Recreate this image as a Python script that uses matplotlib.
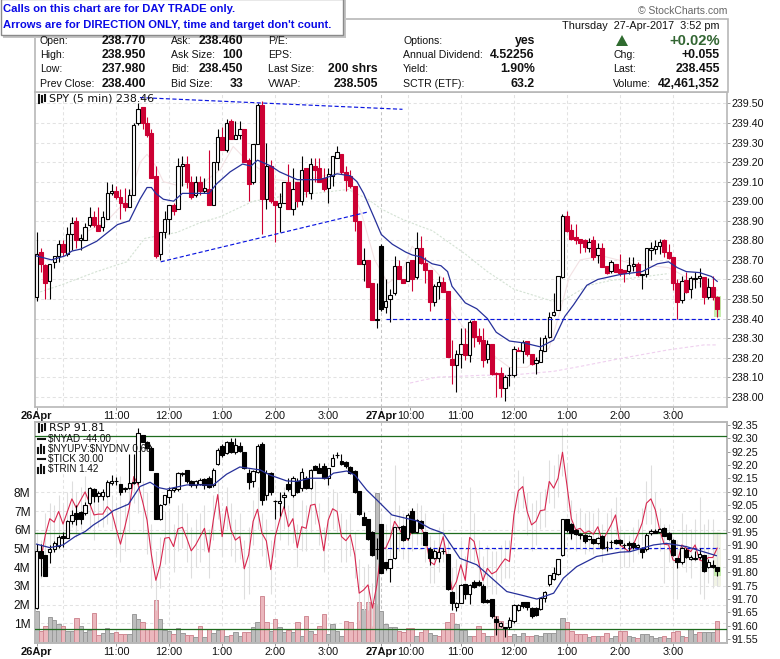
import numpy as np
import matplotlib
matplotlib.use("Agg")
import matplotlib.pyplot as plt
from matplotlib.lines import Line2D
from matplotlib.patches import Rectangle

plt.rcParams['font.family'] = ['Liberation Sans', 'DejaVu Sans']

# SPY 5 min bars, two sessions
spy_open = [238.51,238.74,238.675,238.59,238.69,238.72,238.78,238.73,238.83,238.90,
    238.80,238.80,238.88,238.92,238.88,238.87,238.91,239.04,239.05,239.02,
    238.99,238.97,239.03,239.40,239.48,239.40,239.35,239.13,238.73,238.84,
    238.91,238.98,238.96,239.18,239.19,239.10,239.03,239.10,239.05,239.06,
    238.98,239.20,239.33,239.26,239.41,239.32,239.34,239.37,239.21,239.10,
    239.29,239.49,239.01,239.18,239.00,238.97,238.99,239.10,238.96,239.10,
    239.00,239.17,239.04,239.18,239.17,239.12,239.07,239.13,239.22,239.24,
    239.15,239.13,239.08,238.90,238.68,238.70,238.58,238.39,238.77,238.46,
    238.50,238.53,238.67,238.60,238.59,238.70,238.61,238.76,238.685,238.65,
    238.485,238.565,238.585,238.54,238.195,238.16,238.22,238.27,238.215,238.385,
    238.31,238.29,238.195,238.27,238.12,238.12,238.045,238.11,238.11,238.24,
    238.235,238.285,238.22,238.17,238.18,238.235,238.305,238.42,238.445,238.61,
    238.925,238.855,238.815,238.805,238.80,238.76,238.80,238.725,238.76,238.67,
    238.645,238.68,238.655,238.65,238.645,238.67,238.68,238.625,238.63,238.75,
    238.755,238.77,238.80,238.74,238.715,238.58,238.495,238.595,238.55,238.60,
    238.605,238.61,238.51,238.56,238.51]
spy_high = [238.84,238.76,238.68,238.68,238.72,238.80,238.80,238.87,238.92,238.92,
    238.83,238.89,238.97,238.95,238.97,238.95,239.10,239.09,239.08,239.06,
    239.07,239.06,239.40,239.50,239.48,239.43,239.37,239.18,238.84,238.95,
    238.98,238.99,239.22,239.23,239.23,239.13,239.13,239.13,239.12,239.26,
    239.20,239.37,239.38,239.42,239.42,239.41,239.41,239.37,239.22,239.29,
    239.50,239.51,239.30,239.21,239.00,239.04,239.10,239.19,239.17,239.10,
    239.23,239.17,239.22,239.22,239.22,239.17,239.17,239.23,239.28,239.24,
    239.18,239.16,239.08,238.90,238.76,238.70,238.58,238.58,238.78,238.60,
    238.55,238.72,238.70,238.60,238.69,238.70,238.84,238.82,238.715,238.65,
    238.575,238.615,238.61,238.54,238.29,238.24,238.35,238.35,238.39,238.39,
    238.35,238.35,238.29,238.27,238.125,238.15,238.11,238.15,238.26,238.255,
    238.29,238.285,238.22,238.205,238.305,238.315,238.435,238.53,238.62,238.935,
    238.95,238.885,238.885,238.805,238.805,238.81,238.82,238.785,238.785,238.67,
    238.70,238.68,238.73,238.65,238.715,238.715,238.69,238.63,238.76,238.79,
    238.80,238.805,238.805,238.78,238.715,238.60,238.62,238.64,238.615,238.64,
    238.66,238.61,238.605,238.62,238.515]
spy_low = [238.49,238.64,238.50,238.50,238.66,238.69,238.72,238.72,238.75,238.76,
    238.75,238.80,238.87,238.87,238.85,238.85,238.91,239.03,239.01,238.91,
    238.95,238.97,239.03,239.39,239.37,239.33,239.12,238.71,238.70,238.81,
    238.83,238.93,238.96,239.08,239.07,239.01,239.02,239.03,239.04,238.98,
    238.98,239.16,239.26,239.25,239.32,239.32,239.32,239.20,239.00,239.09,
    239.29,238.83,238.96,238.99,238.79,238.84,238.99,238.96,238.93,238.97,
    238.98,239.02,239.01,239.10,239.10,239.05,238.99,239.08,239.22,239.14,
    239.05,239.07,238.85,238.68,238.59,238.56,238.39,238.35,238.44,238.43,
    238.38,238.52,238.60,238.58,238.59,238.54,238.60,238.68,238.58,238.44,
    238.465,238.50,238.535,238.205,238.065,238.025,238.145,238.19,238.18,238.255,
    238.27,238.15,238.17,238.11,238.00,238.00,237.98,238.055,238.10,238.24,
    238.17,238.21,238.16,238.115,238.18,238.235,238.30,238.415,238.445,238.605,
    238.845,238.80,238.78,238.735,238.74,238.74,238.70,238.685,238.665,238.63,
    238.635,238.64,238.62,238.585,238.63,238.645,238.62,238.55,238.61,238.70,
    238.73,238.73,238.715,238.705,238.545,238.40,238.48,238.53,238.505,238.555,
    238.56,238.475,238.50,238.495,238.41]
spy_close = [238.73,238.68,238.58,238.68,238.72,238.78,238.74,238.83,238.89,238.80,
    238.81,238.87,238.92,238.88,238.85,238.92,239.04,239.05,239.02,238.99,
    238.97,239.03,239.39,239.47,239.40,239.34,239.12,238.72,238.84,238.91,
    238.98,238.95,239.18,239.19,239.10,239.02,239.10,239.05,239.07,238.98,
    239.20,239.33,239.26,239.40,239.32,239.34,239.37,239.20,239.09,239.29,
    239.49,239.01,239.18,239.00,238.98,238.99,239.10,238.96,239.06,239.00,
    239.16,239.05,239.19,239.16,239.10,239.06,239.14,239.23,239.25,239.15,
    239.11,239.08,238.90,238.68,238.70,238.56,238.39,238.40,238.45,238.49,
    238.52,238.67,238.60,238.58,238.69,238.60,238.76,238.685,238.65,238.485,
    238.565,238.585,238.535,238.205,238.16,238.22,238.27,238.215,238.38,238.305,
    238.285,238.19,238.27,238.115,238.115,238.045,238.10,238.11,238.245,238.235,
    238.28,238.22,238.165,238.19,238.24,238.30,238.41,238.435,238.615,238.925,
    238.85,238.805,238.80,238.785,238.765,238.79,238.715,238.76,238.665,238.635,
    238.69,238.64,238.635,238.635,238.675,238.68,238.625,238.63,238.76,238.76,
    238.77,238.79,238.74,238.71,238.58,238.485,238.59,238.535,238.605,238.605,
    238.615,238.51,238.56,238.51,238.45]

# moving averages on the price panel, read at the bends
blue_x = [0,3.4,6.4,8,10,13.6,18.3,21,23.4,25,26,27,28.7,31,33,36,39,40.8,43.8,46.6,48.5,50,53,55,59,61,64,65.5,68,71,72.5,74,76.5,78,80.5,83.5,85,87,89.5,91.5,93,94,97,99.6,102,104,107,110.3,114,117,119.5,121.5,124.5,127,132,137,140.5,143,145,147,150,152.7,154]
blue_y = [238.72,238.70,238.72,238.745,238.755,238.795,238.88,238.90,239.01,239.07,239.07,239.04,239.01,239.0,239.04,239.04,239.04,239.09,239.15,239.19,239.18,239.21,239.18,239.15,239.11,239.11,239.11,239.12,239.14,239.13,239.10,239.04,238.91,238.83,238.78,238.74,238.725,238.715,238.68,238.67,238.64,238.565,238.48,238.45,238.40,238.33,238.285,238.275,238.255,238.29,238.41,238.47,238.57,238.60,238.625,238.64,238.68,238.69,238.66,238.64,238.635,238.615,238.59]
pink_x = [11,16,21,23.5,25,27,28.7,32,38,41.5,44.5,47.5,54,59,69,71,73.5,76.5,79.5,82.5,85,92,94,97,101,104,107,111,116,118.5,120.5,123,128,135,143,148,154]
pink_y = [238.84,238.90,239.02,239.20,239.24,239.18,239.10,239.08,239.10,239.16,239.28,239.21,239.11,239.10,239.15,239.08,238.94,238.70,238.58,238.63,238.77,238.60,238.44,238.34,238.27,238.20,238.15,238.15,238.25,238.44,238.61,238.70,238.72,238.68,238.66,238.60,238.545]
green_x = [0,6,13.6,20.4,24.5,31.7,37,41.5,49,57,63,70.5,75,78,82.5,87,89.5,97,102,108,116.5,119,123,125,130,136,143]
green_y = [238.53,238.575,238.64,238.69,238.81,238.84,238.89,238.92,239.0,239.03,239.04,239.06,239.01,238.96,238.91,238.87,238.85,238.73,238.64,238.55,238.49,238.49,238.545,238.57,238.595,238.61,238.63]
mauve_x = [84.5,90.5,101,107,117,123,132,143,151,154]
mauve_y = [238.07,238.10,238.11,238.11,238.13,238.155,238.195,238.24,238.265,238.265]

# hand drawn lines on the price panel
trend_hi_x = [23.4,82.8]
trend_hi_y = [239.53,239.47]
trend_lo_x = [28.1,75]
trend_lo_y = [238.69,238.945]
prev_close = 238.40
prev_x = [79,154.5]
spy_ticks = [238.0,238.1,238.2,238.3,238.4,238.5,238.6,238.7,238.8,238.9,239.0,239.1,239.2,239.3,239.4,239.5]

# RSP bars on the lower panel
rsp_open = [91.665,91.88,91.865,91.875,91.888,91.897,91.937,91.927,91.99,92.02,
    92.024,92.02,92.058,92.11,92.086,92.083,92.086,92.132,92.141,92.128,
    92.11,92.116,92.132,92.136,92.313,92.288,92.263,92.17,92.0,92.056,
    92.08,92.108,92.11,92.165,92.18,92.14,92.125,92.13,92.148,92.153,
    92.125,92.203,92.27,92.245,92.288,92.25,92.27,92.25,92.17,92.14,
    92.175,92.28,92.09,92.17,92.065,92.058,92.08,92.13,92.09,92.14,
    92.113,92.15,92.116,92.197,92.188,92.198,92.153,92.198,92.238,92.215,
    92.21,92.193,92.178,92.103,92.005,92.0,91.952,91.885,91.98,91.837,
    91.817,91.855,91.968,91.972,91.927,92.03,91.95,91.99,91.95,91.886,
    91.855,91.855,91.878,91.867,91.728,91.672,91.687,91.755,91.72,91.765,
    91.765,91.75,91.695,91.70,91.625,91.60,91.593,91.595,91.617,91.66,
    91.688,91.688,91.665,91.665,91.663,91.703,91.755,91.775,91.793,91.865,
    91.998,91.98,91.958,91.94,91.94,91.924,91.923,91.908,91.937,91.895,
    91.912,91.92,91.92,91.90,91.908,91.908,91.896,91.887,91.887,91.945,
    91.955,91.952,91.967,91.946,91.92,91.855,91.837,91.883,91.85,91.85,
    91.857,91.865,91.82,91.828,91.82]
rsp_high = [91.907,91.907,91.865,91.90,91.915,91.94,91.952,91.995,92.032,92.05,
    92.027,92.064,92.12,92.114,92.104,92.11,92.145,92.164,92.157,92.128,
    92.12,92.24,92.24,92.338,92.313,92.29,92.27,92.17,92.055,92.09,
    92.12,92.12,92.175,92.175,92.182,92.145,92.145,92.15,92.15,92.16,
    92.19,92.265,92.28,92.29,92.30,92.30,92.285,92.25,92.185,92.18,
    92.28,92.285,92.18,92.175,92.07,92.10,92.10,92.15,92.16,92.15,
    92.188,92.16,92.185,92.20,92.207,92.207,92.19,92.24,92.248,92.24,
    92.215,92.195,92.18,92.103,92.024,92.0,91.955,91.927,91.98,91.84,
    91.85,91.97,91.97,91.975,92.02,92.04,92.0,91.995,91.952,91.896,
    91.885,91.896,91.89,91.867,91.73,91.69,91.755,91.757,91.755,91.77,
    91.77,91.755,91.70,91.70,91.635,91.615,91.595,91.634,91.68,91.68,
    91.69,91.69,91.67,91.67,91.705,91.73,91.79,91.82,91.85,92.0,
    91.999,91.985,91.96,91.945,91.942,91.94,91.925,91.93,91.94,91.917,
    91.92,91.925,91.925,91.91,91.915,91.912,91.905,91.896,91.945,91.96,
    91.96,91.965,91.97,91.95,91.925,91.855,91.895,91.89,91.865,91.88,
    91.89,91.865,91.85,91.845,91.82]
rsp_low = [91.663,91.785,91.787,91.834,91.877,91.89,91.896,91.927,91.98,91.977,
    91.979,92.014,92.05,92.064,92.064,92.07,92.08,92.126,92.126,92.09,
    92.10,92.11,92.13,92.13,92.286,92.26,92.18,91.998,91.995,92.05,
    92.06,92.10,92.105,92.16,92.135,92.12,92.115,92.125,92.11,92.115,
    92.12,92.20,92.23,92.24,92.245,92.24,92.25,92.185,92.11,92.12,
    92.17,92.05,92.07,92.09,92.0,92.01,92.04,92.105,92.08,92.095,
    92.105,92.11,92.11,92.18,92.17,92.148,92.124,92.195,92.226,92.20,
    92.19,92.165,92.095,92.015,91.975,91.92,91.86,91.85,91.797,91.81,
    91.765,91.85,91.96,91.915,91.92,91.945,91.945,91.96,91.90,91.827,
    91.85,91.84,91.87,91.735,91.66,91.657,91.685,91.70,91.68,91.74,
    91.75,91.685,91.685,91.63,91.565,91.595,91.56,91.59,91.61,91.655,
    91.665,91.66,91.63,91.635,91.66,91.69,91.75,91.77,91.79,91.86,
    91.95,91.925,91.94,91.925,91.91,91.92,91.905,91.905,91.885,91.88,
    91.89,91.905,91.90,91.89,91.88,91.885,91.89,91.855,91.88,91.94,
    91.945,91.95,91.935,91.92,91.86,91.817,91.83,91.855,91.845,91.845,
    91.85,91.80,91.815,91.815,91.785]
rsp_close = [91.88,91.855,91.787,91.888,91.908,91.933,91.927,91.993,92.014,91.999,
    91.999,92.05,92.116,92.086,92.095,92.099,92.138,92.141,92.14,92.098,
    92.116,92.132,92.136,92.318,92.288,92.263,92.18,91.998,92.05,92.089,
    92.108,92.115,92.17,92.17,92.14,92.125,92.14,92.145,92.125,92.12,
    92.182,92.257,92.238,92.285,92.25,92.275,92.253,92.19,92.136,92.178,
    92.273,92.07,92.17,92.10,92.065,92.067,92.087,92.11,92.153,92.10,
    92.176,92.116,92.182,92.182,92.172,92.153,92.188,92.226,92.239,92.205,
    92.195,92.17,92.098,92.018,91.977,91.925,91.865,91.887,91.797,91.815,
    91.85,91.969,91.969,91.92,92.012,91.95,91.995,91.967,91.902,91.855,
    91.88,91.874,91.88,91.737,91.687,91.687,91.753,91.72,91.752,91.746,
    91.753,91.69,91.688,91.635,91.615,91.61,91.594,91.622,91.678,91.678,
    91.675,91.672,91.635,91.64,91.703,91.725,91.788,91.796,91.849,91.998,
    91.958,91.946,91.942,91.941,91.917,91.937,91.908,91.927,91.89,91.896,
    91.913,91.91,91.908,91.90,91.90,91.896,91.902,91.877,91.94,91.955,
    91.947,91.962,91.937,91.923,91.865,91.837,91.89,91.858,91.857,91.855,
    91.867,91.806,91.838,91.818,91.806]

# red overlay line, same scale as the right axis
red_line = [91.865,91.85,91.94,92.0,91.987,92.027,91.98,92.027,92.074,92.04,
    92.07,92.10,92.058,92.014,92.017,92.017,92.045,92.027,91.964,91.905,
    91.97,92.04,92.157,92.126,92.064,91.995,91.865,91.77,91.828,91.927,
    91.93,91.896,91.962,91.968,91.927,91.88,91.902,91.933,91.964,91.875,
    91.995,92.09,91.933,92.045,91.958,91.92,91.933,91.813,91.865,91.99,
    92.035,91.946,91.917,91.81,91.933,91.995,92.045,91.97,92.0,91.892,
    91.97,91.964,92.05,92.054,91.977,91.88,91.995,92.037,92.027,91.933,
    91.918,91.94,91.865,91.722,91.734,91.753,91.666,91.753,91.89,91.89,
    91.927,91.99,91.964,91.933,91.92,91.958,91.977,91.97,91.927,91.84,
    91.828,91.877,91.933,91.84,91.734,91.765,91.828,91.77,91.93,91.915,
    91.84,91.769,91.815,91.794,91.803,91.828,91.85,91.84,92.014,92.104,
    92.12,92.027,91.977,91.99,92.03,92.033,92.139,92.114,92.151,92.248,
    92.126,92.0,91.958,91.964,91.946,91.954,91.942,91.97,91.915,91.946,
    91.977,92.014,91.902,91.89,91.877,91.902,91.94,91.983,92.058,92.074,
    92.033,91.958,91.905,91.902,91.846,91.84,91.902,91.89,91.877,91.902,
    91.846,91.84,91.855,91.855,91.89]

# pale high-low bars behind the candles
tick_high = [91.95,91.92,92.02,92.06,92.05,92.09,92.05,92.10,92.14,92.10,
    92.12,92.16,92.12,92.09,92.06,92.07,92.10,92.09,92.06,92.16,
    92.06,92.13,92.24,92.20,92.14,92.10,91.98,91.88,91.93,92.03,
    92.03,91.98,92.05,92.06,92.02,91.97,92.00,92.02,92.05,91.96,
    92.09,92.14,92.02,92.12,92.06,92.00,92.02,91.92,91.97,92.07,
    92.12,92.02,92.00,91.92,92.02,92.08,92.12,92.05,92.10,91.98,
    92.07,92.05,92.14,92.14,92.06,91.97,92.08,92.11,92.10,92.02,
    92.00,92.02,91.95,91.85,91.82,91.83,91.76,91.85,92.02,91.98,
    92.02,92.20,92.05,92.02,92.00,92.04,92.06,92.05,92.02,91.94,
    91.92,91.97,92.02,91.92,91.82,91.85,91.92,91.86,92.12,92.02,
    91.92,91.86,91.90,91.88,91.88,91.90,91.92,91.92,92.10,92.18,
    92.16,92.10,92.06,92.07,92.10,92.11,92.22,92.20,92.24,92.34,
    92.20,92.07,92.02,92.04,92.02,92.03,92.02,92.04,91.98,92.02,
    92.04,92.08,91.97,91.95,91.94,91.97,92.00,92.04,92.14,92.20,
    92.10,92.04,91.98,91.98,91.92,91.92,92.02,91.98,91.96,92.00,
    92.08,91.98,92.00,92.00,91.95]
tick_low = [91.80,91.78,91.84,91.89,91.90,91.94,91.88,91.93,91.97,91.93,
    91.96,92.02,91.96,91.92,91.97,91.97,91.98,91.96,91.87,91.84,
    91.88,91.95,92.06,92.02,91.95,91.87,91.74,91.66,91.74,91.83,
    91.84,91.80,91.88,91.89,91.84,91.78,91.82,91.84,91.88,91.78,
    91.92,92.00,91.86,91.96,91.86,91.84,91.85,91.70,91.72,91.90,
    91.96,91.86,91.82,91.72,91.86,91.92,91.96,91.90,91.91,91.82,
    91.88,91.88,91.95,91.98,91.90,91.80,91.92,91.96,91.95,91.84,
    91.84,91.86,91.78,91.62,91.66,91.66,91.60,91.68,91.80,91.80,
    91.82,91.90,91.88,91.85,91.84,91.88,91.90,91.90,91.84,91.76,
    91.76,91.80,91.84,91.76,91.66,91.70,91.76,91.70,91.84,91.84,
    91.76,91.70,91.74,91.72,91.72,91.76,91.78,91.78,91.94,92.02,
    92.04,91.94,91.88,91.90,91.96,91.97,92.06,92.04,92.08,92.16,
    92.04,91.92,91.88,91.89,91.87,91.88,91.87,91.89,91.84,91.87,
    91.90,91.94,91.82,91.82,91.82,91.84,91.87,91.90,91.98,91.98,
    91.96,91.88,91.76,91.84,91.70,91.70,91.82,91.80,91.78,91.84,
    91.72,91.70,91.76,91.74,91.75]

rsp_ma_x = [0,3,6,8.7,11,12.9,15.1,17.4,20.8,23.4,25.7,27.6,29.4,34,40,43,46,50.6,52.8,56.6,58.9,61.9,65.7,67.2,70.2,72,74.7,77,80.4,86,89,92,95.8,99.6,103,106.4,109.4,113.2,117,119.2,122.2,126.7,132,134.3,139.6,142.5,147,153.8]
rsp_ma_y = [91.905,91.892,91.902,91.933,91.952,91.977,92.0,92.03,92.054,92.12,92.136,92.116,92.11,92.126,92.126,92.166,92.193,92.182,92.163,92.141,92.139,92.151,92.151,92.17,92.178,92.163,92.107,92.07,92.014,91.992,91.964,91.946,91.852,91.828,91.778,91.728,91.716,91.70,91.722,91.778,91.821,91.859,91.875,91.877,91.902,91.908,91.896,91.862]
green_levels = [92.308,91.946,91.59]
rsp_prev = 91.89
rsp_prev_x = [78,154.5]
rsp_ticks = [91.55,91.60,91.65,91.70,91.75,91.80,91.85,91.90,91.95,92.00,92.05,92.10,92.15,92.20,92.25,92.30,92.35]

# volume in millions, g = up bar, p = down bar
volume = [1.68,.57,.84,1.32,1.18,.96,.84,.57,.57,1.27,
    .84,.52,.64,1.54,.38,.46,.73,.46,.52,.43,
    .43,.43,1.5,1.23,1.05,.70,.68,2.25,1.23,.64,
    .6,.43,.73,.46,.38,.38,.25,.84,.29,.7,
    .46,.64,.7,.34,.38,.52,.34,.52,.52,.79,
    1.05,2.48,1.05,.6,1.23,.82,.55,.66,.55,1.05,
    .34,1.37,.6,.43,.84,1.5,.43,.96,.6,.3,
    1.1,1.05,.7,2.12,1.77,2.12,2.07,7.96,1.68,.96,
    .79,.79,.6,.55,.73,.75,.34,.55,.7,.46,
    .39,.3,.7,1.05,1.54,.96,.64,.64,.34,.34,
    .84,.46,.3,.34,1.37,1.14,.75,.34,.43,.34,
    .46,.3,.3,.38,.3,.46,.46,.46,.7,1.27,
    1.05,.57,.43,.43,.43,.25,.34,.3,.3,.46,
    .2,.3,.6,.6,.34,.25,.2,.43,.43,.3,
    .2,.25,.3,.2,.52,.6,.34,.25,.7,.43,
    .52,.52,.52,.52,1.1]
vol_side = ("gppgggpggp" "gggppgggpp" "pgggppppgg" "gpggppgpgp" "ggpgpggppg"
    "gppgpggpgp" "gpgpppgggg" "ppppgppggg" "ggppppgppg" "gppppggggp"
    "ppgpppppgg" "gppggggggg" "pppppgpgpp" "ggppggpggg" "ggpgppgpgg" "pgggp")
vol_ticks = [1,2,3,4,5,6,7,8]
vol_labels = ['1M','2M','3M','4M','5M','6M','7M','8M']

# x axis, bar number of each hour mark
hour_bars = [6,18,30,42,54,66,78,84,96,108,120,132,144]
label_bars = [0,18,30,42,54,66,78,84.6,96,108,120,132,144]
label_text = ['26Apr','11:00','12:00','1:00','2:00','3:00','27Apr','10:00','11:00','12:00','1:00','2:00','3:00']

RED = '#cc0033'
GRID = '#e2e2e2'
EDGE = '#b8b8b8'
W, H = 780, 659


def box(l, t, r, b):
    return [l/W, 1-b/H, (r-l)/W, (b-t)/H]


def label(x, y, s, **kw):
    kw.setdefault('va', 'center')
    kw.setdefault('fontsize', 7.6)
    kw.setdefault('color', '#111111')
    fig.text(x/W, 1-y/H, s, parse_math=False, **kw)


def candles(ax, o, h, l, c, use_red=True):
    for i in range(len(o)):
        up = c[i] > o[i]
        col = 'black'
        if use_red and not up and i > 0 and c[i] <= c[i-1]:
            col = RED
        ax.vlines(i, l[i], h[i], color=col, lw=0.8, zorder=5)
        bot = min(o[i], c[i])
        ht = max(abs(c[i]-o[i]), 0.001)
        # filled bodies come out a bit wider than the hollow ones on the original
        ax.bar(i, ht, bottom=bot, width=0.76 if up else 0.9, facecolor='white' if up else col,
               edgecolor=col, linewidth=0.8, zorder=6)


def style_axis(ax):
    for s in ax.spines.values():
        s.set_color(EDGE)
        s.set_linewidth(1.2)


def set_x(ax):
    ax.set_xlim(-0.41, 156.33)
    ax.set_xticks(label_bars)
    ax.set_xticklabels(label_text, fontsize=7.8, color='#111111')
    for t, s in zip(ax.get_xticklabels(), label_text):
        if 'Apr' in s:
            t.set_fontweight('bold')
            t.set_fontsize(8)
    ax.tick_params(axis='x', length=2, width=0.7, color='#999999', pad=1)
    for b in hour_bars:
        ax.axvline(b, color='#c4c4c4' if b == 78 else GRID, lw=0.75, ls=(0, (3, 2.5)), zorder=0)


fig = plt.figure(figsize=(W/100, H/100), dpi=100, facecolor='white')

# price panel
ax = fig.add_axes(box(34.7, 91.7, 727.5, 407.3))
ax.set_ylim(237.946, 239.56)
set_x(ax)
style_axis(ax)
ax.set_yticks(spy_ticks)
ax.set_yticklabels(['%.2f' % v for v in spy_ticks], fontsize=7.7, color='#111111')
ax.yaxis.tick_right()
ax.tick_params(axis='y', length=2, width=0.7, color='#999999', pad=1.2)
for v in spy_ticks:
    ax.axhline(v, color=GRID, lw=0.75, ls=(0, (3, 2.5)), zorder=0)

ax.bar(154, spy_high[154]-spy_low[154], bottom=spy_low[154], width=1.5, color='#c6edae', zorder=1)
ax.plot(mauve_x, mauve_y, color='#efd0ef', lw=0.8, ls=(0, (3, 2)), zorder=2)
ax.plot(green_x, green_y, color='#d4e2d4', lw=0.8, ls=(0, (2, 1.5)), zorder=2)
ax.plot(pink_x, pink_y, color='#f3e2e4', lw=0.8, zorder=2)
candles(ax, spy_open, spy_high, spy_low, spy_close)
ax.plot(blue_x, blue_y, color='#26309a', lw=0.9, zorder=8)
dash = dict(color='#0b16e0', lw=0.85, ls=(0, (3.5, 2)), zorder=9)
ax.plot(trend_hi_x, trend_hi_y, **dash)
ax.plot(trend_lo_x, trend_lo_y, **dash)
ax.plot(prev_x, [prev_close, prev_close], **dash)

# volume + RSP panel
vax = fig.add_axes(box(34.7, 421.7, 727.5, 643))
vax.set_ylim(-0.05, 11.78)
set_x(vax)
style_axis(vax)
vax.set_yticks(vol_ticks)
vax.set_yticklabels(vol_labels, fontsize=8.6, color='#111111')
vax.tick_params(axis='y', length=0, pad=3)
for v in vol_ticks:
    vax.axhline(v, color=GRID, lw=0.75, ls=(0, (3, 2.5)), zorder=0)
for i, (v, side) in enumerate(zip(volume, vol_side)):
    up = side == 'g'
    vax.bar(i, v, width=1.0, facecolor='#bdbdbd' if up else '#ebb7bd',
            edgecolor='#9a9a9a' if up else '#d08a94', linewidth=0.7, zorder=2)

pax = vax.twinx()
pax.set_ylim(91.536, 92.362)
pax.set_xlim(-0.41, 156.33)
style_axis(pax)
pax.set_yticks(rsp_ticks)
pax.set_yticklabels(['%.2f' % v for v in rsp_ticks], fontsize=7.7, color='#111111')
pax.tick_params(axis='y', length=2, width=0.7, color='#999999', pad=1.2)

pax.bar(154, tick_high[154]-tick_low[154], bottom=tick_low[154], width=1.5, color='#f2f4e6', zorder=1)
pax.bar(154, rsp_high[154]-rsp_low[154], bottom=rsp_low[154], width=1.5, color='#c6edae', zorder=1)
pax.vlines(range(len(tick_high)), tick_low, tick_high, color='#dedede', lw=0.8, zorder=2)
for lv in green_levels:
    pax.axhline(lv, color='#1e6b1e', lw=0.9, zorder=3)
pax.plot(rsp_prev_x, [rsp_prev, rsp_prev], color='#0b16e0', lw=0.85, ls=(0, (3.5, 2)), zorder=4)
pax.plot(range(len(red_line)), red_line, color='#d8274f', lw=0.8, zorder=5)
candles(pax, rsp_open, rsp_high, rsp_low, rsp_close, use_red=False)
pax.plot(rsp_ma_x, rsp_ma_y, color='#26309a', lw=0.9, zorder=8)

# header frame
fig.add_artist(Rectangle((34.7/W, 1-91.7/H), (727.5-34.7)/W, (91.7-19)/H, transform=fig.transFigure,
                         facecolor='white', edgecolor=EDGE, lw=1.2))
rows = [40.7, 55, 69.3, 84]
for y, name, val in zip(rows, ['Open:', 'High:', 'Low:', 'Prev Close:'], ['238.770', '238.950', '237.980', '238.400']):
    label(39.7, y, name)
    label(145.7, y, val, ha='right', fontweight='bold', fontsize=8.8)
for y, name, val in zip(rows, ['Ask:', 'Ask Size:', 'Bid:', 'Bid Size:'], ['238.460', '100', '238.450', '33']):
    label(170.7, y, name)
    label(243, y, val, ha='right', fontweight='bold', fontsize=8.8)
for y, name, val in zip(rows, ['P/E:', 'EPS:', 'Last Size:', 'VWAP:'], ['', '', '200 shrs', '238.505']):
    label(268, y, name)
    if val:
        label(378, y, val, ha='right', fontweight='bold', fontsize=8.8)
for y, name, val in zip(rows, ['Options:', 'Annual Dividend:', 'Yield:', 'SCTR (ETF):'], ['yes', '4.52256', '1.90%', '63.2']):
    label(403, y, name)
    label(535, y, val, ha='right', fontweight='bold', fontsize=8.8)
for y, name, val in zip(rows[1:], ['Chg:', 'Last:', 'Volume:'], ['+0.055', '238.455', '42,461,352']):
    label(613, y, name)
    label(720, y, val, ha='right', fontweight='bold', fontsize=8.8)
label(720, 26, 'Thursday  27-Apr-2017  3:52 pm', ha='right', fontsize=7.8)
label(720, 41, '+0.02%', ha='right', fontweight='bold', fontsize=10.6, color='#336633')
fig.add_artist(plt.Polygon([(616/W, 1-46/H), (628/W, 1-46/H), (622/W, 1-35/H)], transform=fig.transFigure,
                           facecolor='#2f6b2f', edgecolor='none'))
label(727, 11, '\u00a9 StockCharts.com', ha='right', fontsize=7.5, color='#666666')

# notice box in the corner, with its drop shadow
fig.add_artist(Rectangle((3/W, 1-38/H), 343/W, 38/H, transform=fig.transFigure, facecolor='#c4c4c4', edgecolor='none'))
fig.add_artist(Rectangle((1/W, 1-35/H), 342/W, 36/H, transform=fig.transFigure, facecolor='white', edgecolor='#8a8a8a', lw=1))
label(3.3, 9.5, 'Calls on this chart are for DAY TRADE only.', fontweight='bold', fontsize=8.1, color='#0a0ae6')
label(3.3, 25, "Arrows are for DIRECTION ONLY, time and target don't count.", fontweight='bold', fontsize=8.1, color='#0a0ae6')


# legend icons
def candle_icon(x, y):
    for dx, top, bot in [(0, -4, 4), (3, -3, 3), (6, -4, 2)]:
        fig.add_artist(Line2D([(x+dx)/W]*2, [1-(y+top)/H, 1-(y+bot)/H], color='#111111', lw=1.5))


def dash_icon(x, y):
    fig.add_artist(Line2D([x/W, (x+7)/W], [1-y/H, 1-y/H], color='#111111', lw=1.5))


def bars_icon(x, y):
    for dx, top in [(0, -1), (3, -4), (6, -2)]:
        fig.add_artist(Line2D([(x+dx)/W]*2, [1-(y+top)/H, 1-(y+4)/H], color='#111111', lw=1.5))


candle_icon(39, 98.5)
label(49.3, 98.7, 'SPY (5 min) 238.46', family='DejaVu Sans', fontsize=7.9)
candle_icon(39, 428.3)
label(49.3, 428.3, 'RSP 91.81', family='DejaVu Sans', fontsize=7.9)
dash_icon(38, 438.7)
label(48.3, 438.7, '$NYAD -44.00', fontsize=7.1)
bars_icon(38, 448.7)
label(48.3, 448.7, '$NYUPV:$NYDNV 0.68', fontsize=7.1)
dash_icon(38, 458.7)
label(48.3, 458.7, '$TICK 30.00', fontsize=7.1)
bars_icon(38, 468.7)
label(48.3, 468.7, '$TRIN 1.42', fontsize=7.1)

fig.savefig('out.png', dpi=100)
